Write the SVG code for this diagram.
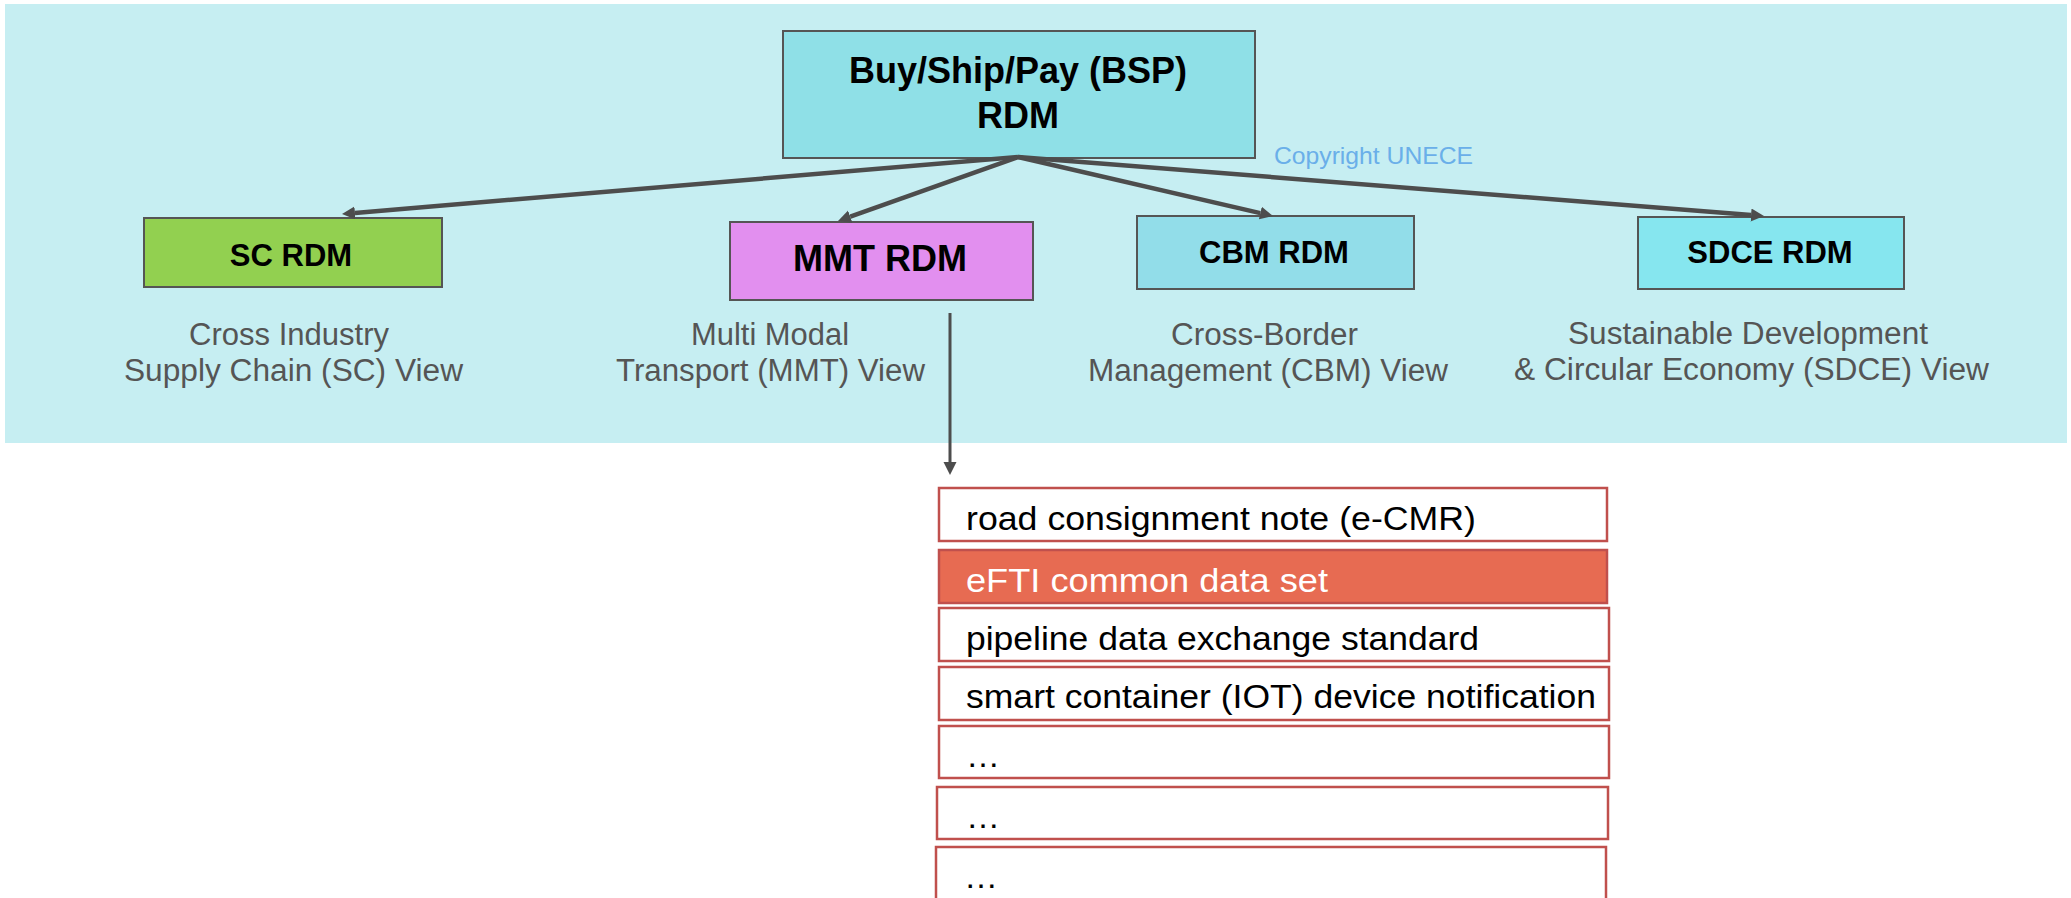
<svg xmlns="http://www.w3.org/2000/svg" width="2071" height="898" viewBox="0 0 2071 898">
<style>
.node rect{stroke:#555555;stroke-width:2}
.bold{font-family:"Liberation Sans",Arial,sans-serif;font-weight:bold;fill:#000000;text-anchor:middle}
.cap{font-family:"Liberation Sans",Arial,sans-serif;font-size:31px;fill:#555555}
.item rect{fill:#ffffff;stroke:#C0504D;stroke-width:2.5}
.item text{font-family:"Liberation Sans",Arial,sans-serif;font-size:34px;fill:#000000}
.conn line{stroke:#4D4D4D;fill:none}
</style>
<defs>
<marker id="ah" markerUnits="userSpaceOnUse" markerWidth="14" markerHeight="14" refX="0" refY="6.5" orient="auto">
<path d="M0,0 L13,6.5 L0,13 z" fill="#4D4D4D"/>
</marker>
</defs>
<rect x="0" y="0" width="2071" height="898" fill="#ffffff"/>
<rect id="panel" x="5" y="4" width="2062" height="439" fill="#C6EEF2"/>

<g id="bsp" class="node">
<rect x="783" y="31" width="472" height="127" fill="#8FE0E7"/>
<text class="bold" x="1018" y="83" font-size="36">Buy/Ship/Pay (BSP)</text>
<text class="bold" x="1018" y="128" font-size="36">RDM</text>
</g>
<text id="copyright" x="1274" y="164" font-family="'Liberation Sans',Arial,sans-serif" font-size="24" fill="#6AAFE9" textLength="199" lengthAdjust="spacingAndGlyphs">Copyright UNECE</text>

<g id="sc" class="node">
<rect x="144" y="218" width="298" height="69" fill="#92D050"/>
<text class="bold" x="291" y="266" font-size="31">SC RDM</text>
</g>
<g id="mmt" class="node">
<rect x="730" y="222" width="303" height="78" fill="#E28FEF"/>
<text class="bold" x="880" y="271" font-size="36">MMT RDM</text>
</g>
<g id="cbm" class="node">
<rect x="1137" y="216" width="277" height="73" fill="#92DDE9"/>
<text class="bold" x="1274" y="263" font-size="31">CBM RDM</text>
</g>
<g id="sdce" class="node">
<rect x="1638" y="217" width="266" height="72" fill="#86E6EF"/>
<text class="bold" x="1770" y="263" font-size="31">SDCE RDM</text>
</g>

<g id="sc-caption">
<text class="cap" x="189" y="345" textLength="200" lengthAdjust="spacingAndGlyphs">Cross Industry</text>
<text class="cap" x="124" y="381" textLength="339" lengthAdjust="spacingAndGlyphs">Supply Chain (SC) View</text>
</g>
<g id="mmt-caption">
<text class="cap" x="691" y="345" textLength="158" lengthAdjust="spacingAndGlyphs">Multi Modal</text>
<text class="cap" x="616" y="381" textLength="309" lengthAdjust="spacingAndGlyphs">Transport (MMT) View</text>
</g>
<g id="cbm-caption">
<text class="cap" x="1171" y="345" textLength="187" lengthAdjust="spacingAndGlyphs">Cross-Border</text>
<text class="cap" x="1088" y="381" textLength="360" lengthAdjust="spacingAndGlyphs">Management (CBM) View</text>
</g>
<g id="sdce-caption">
<text class="cap" x="1568" y="344" textLength="360" lengthAdjust="spacingAndGlyphs">Sustainable Development</text>
<text class="cap" x="1514" y="380" textLength="475" lengthAdjust="spacingAndGlyphs">&amp; Circular Economy (SDCE) View</text>
</g>

<g id="connectors" class="conn">
<line x1="1018" y1="157" x2="354.95" y2="212.9" stroke-width="4.5" marker-end="url(#ah)"/>
<line x1="1018" y1="157" x2="850.25" y2="216.64" stroke-width="4.5" marker-end="url(#ah)"/>
<line x1="1018" y1="157" x2="1260.33" y2="213.07" stroke-width="4.5" marker-end="url(#ah)"/>
<line x1="1018" y1="157" x2="1751.04" y2="214.98" stroke-width="4.5" marker-end="url(#ah)"/>
<line x1="950" y1="313" x2="950" y2="462" stroke-width="3" marker-end="url(#ah)"/>
</g>

<g id="item1" class="item">
<rect x="939" y="488" width="668" height="53"/>
<text x="966" y="530" textLength="510" lengthAdjust="spacingAndGlyphs">road consignment note (e-CMR)</text>
</g>
<g id="item2" class="item">
<rect x="939" y="550" width="668" height="53" style="fill:#E76B52"/>
<text x="966" y="592" textLength="362" lengthAdjust="spacingAndGlyphs" style="fill:#ffffff">eFTI common data set</text>
</g>
<g id="item3" class="item">
<rect x="939" y="608" width="670" height="53"/>
<text x="966" y="650" textLength="513" lengthAdjust="spacingAndGlyphs">pipeline data exchange standard</text>
</g>
<g id="item4" class="item">
<rect x="939" y="667" width="670" height="53"/>
<text x="966" y="708" textLength="630" lengthAdjust="spacingAndGlyphs">smart container (IOT) device notification</text>
</g>
<g id="item5" class="item">
<rect x="939" y="726" width="670" height="52"/>
<text x="966" y="767">…</text>
</g>
<g id="item6" class="item">
<rect x="937" y="787" width="671" height="52"/>
<text x="966" y="828">…</text>
</g>
<g id="item7" class="item">
<rect x="936" y="847" width="670" height="60"/>
<text x="964" y="888">…</text>
</g>
</svg>
